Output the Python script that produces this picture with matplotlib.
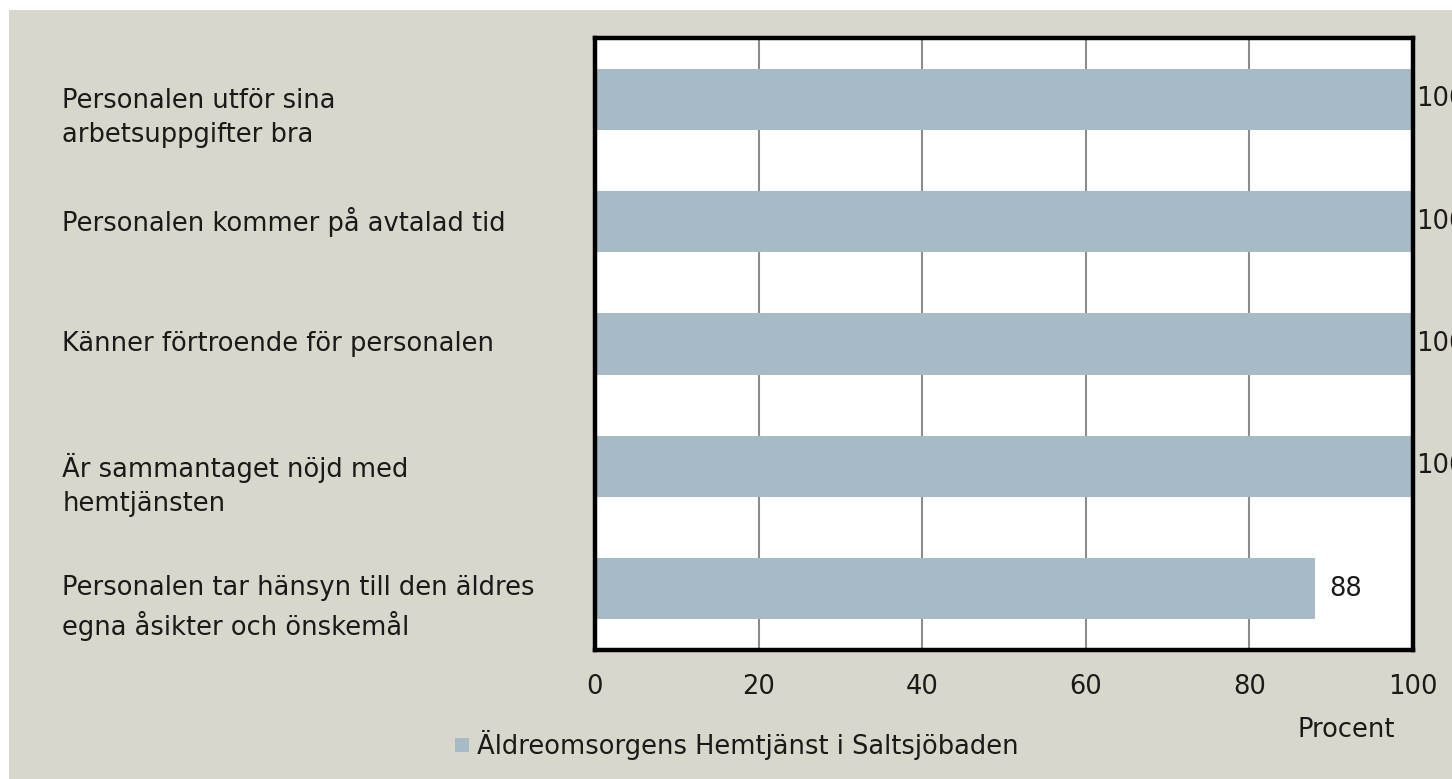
import numpy as np
import matplotlib.pyplot as plt
from matplotlib.patches import Rectangle

categories = [
    "Personalen utför sina\narbetsuppgifter bra",
    "Personalen kommer på avtalad tid",
    "Känner förtroende för personalen",
    "Är sammantaget nöjd med\nhemtjänsten",
    "Personalen tar hänsyn till den äldres\negna åsikter och önskemål",
]
values = [100, 100, 100, 100, 88]
series_name = "Äldreomsorgens Hemtjänst i Saltsjöbaden"
xticks = [0, 20, 40, 60, 80, 100]

bg = "#D9D7CB"
bar_color = "#A7BBC6"
txt = "#1A1A1A"
fs = 18.5

plt.rcParams['font.family'] = ['DejaVu Sans']

fig = plt.figure(figsize=(14.52, 7.79), dpi=100)
fig.patch.set_facecolor("white")
# beige panel, leaving a thin white strip on top and left
fig.patches.append(Rectangle((9 / 1452, 0), 1, 1 - 10 / 779, transform=fig.transFigure,
                             facecolor=bg, edgecolor="none", zorder=-10))

ax = fig.add_axes([595 / 1452, 1 - 650 / 779, 818 / 1452, 612 / 779])
ax.set_facecolor("white")

y = np.arange(len(categories))
bars = ax.barh(y, values, height=0.5, color=bar_color, zorder=2)
ax.set_ylim(len(categories) - 0.5, -0.5)
ax.set_xlim(0, 100)

ax.set_xticks(xticks)
ax.set_xticklabels([str(t) for t in xticks], fontsize=fs, color=txt)
ax.tick_params(axis="x", length=0, pad=17)
ax.set_yticks([])
ax.xaxis.grid(True, color="#8C8C8C", linewidth=1.5, zorder=1)
ax.set_axisbelow(True)

for s in ax.spines.values():
    s.set_linewidth(3.2)
    s.set_color("black")

# category labels, left aligned at the panel's left
for i, lab in enumerate(categories):
    two = "\n" in lab
    ax.text(-0.651, i + (0.155 if two else 0.0), lab, transform=ax.get_yaxis_transform(),
            ha="left", va="center", fontsize=fs, color=txt, linespacing=1.4)

# value labels (the full bars get theirs right against the frame)
for i, v in enumerate(values):
    ax.text(min(v + 1.8, 100.4), i, str(v), ha="left", va="center", fontsize=fs,
            color=txt, clip_on=False)

ax.text(0.918, -0.13, "Procent", transform=ax.transAxes, ha="center", va="center",
        fontsize=fs, color=txt)

# legend
fig.patches.append(Rectangle((455 / 1452, 1 - 752 / 779), 14 / 1452, 14 / 779,
                             transform=fig.transFigure, facecolor=bar_color, edgecolor="none"))
fig.text(477 / 1452, 1 - 745 / 779, series_name, ha="left", va="center",
         fontsize=fs, color=txt)

fig.savefig("out.png", dpi=100, facecolor=fig.get_facecolor())
